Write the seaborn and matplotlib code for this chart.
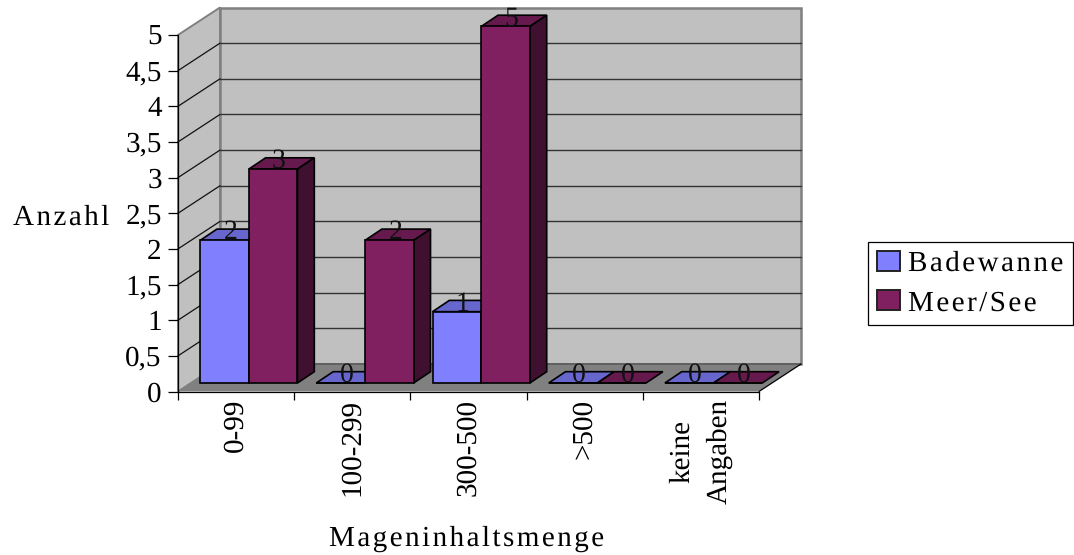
import matplotlib
matplotlib.use("Agg")
import numpy as np
import pandas as pd
import seaborn as sns
import matplotlib.pyplot as plt
from matplotlib.patches import Polygon

### data
mengen = ["0-99", "100-299", "300-500", ">500", "keine\nAngaben"]
badewanne = [2, 0, 1, 0, 0]
meer_see = [3, 2, 5, 0, 0]
y_ticks = [0, 0.5, 1, 1.5, 2, 2.5, 3, 3.5, 4, 4.5, 5]
y_labels = ["0", "0,5", "1", "1,5", "2", "2,5", "3", "3,5", "4", "4,5", "5"]

df = pd.DataFrame({
    "menge": mengen * 2,
    "anzahl": badewanne + meer_see,
    "ort": ["Badewanne"] * 5 + ["Meer/See"] * 5,
})

# front, top, side colours per series
colors = {"Badewanne": ("#8080FF", "#6666CC", "#404080"),
          "Meer/See": ("#802060", "#66194D", "#401030")}


def spaced(s):
    # the original titles are letter spaced, matplotlib has no option for it
    return "\u200a".join(s)


sns.set_theme(style="white", rc={"text.color": "black", "axes.labelcolor": "black",
                                 "xtick.color": "black", "ytick.color": "black"})
plt.rcParams["font.family"] = ["Liberation Serif", "DejaVu Serif"]
plt.rcParams["text.hinting"] = "no_hinting"
FS = 21

W, H = 1074, 555
fig = plt.figure(figsize=(W / 100, H / 100), dpi=100)
ax = fig.add_axes([178 / W, 1 - 391.5 / H, 581 / W, 356.5 / H])
ax.patch.set_visible(False)

sns.barplot(data=df, x="menge", y="anzahl", hue="ort", ax=ax, width=0.838,
            gap=0, saturation=1, legend=False, edgecolor="black", linewidth=1.2,
            palette={k: v[0] for k, v in colors.items()})
ax.set_xlim(-0.5, 4.5)
ax.set_ylim(0, 5)

# oblique depth of the chart box, in data units
DX, DY = 42 / 116.2, 27.5 / 71.3
x0, x1, y0, y1 = -0.5, 4.5, 0, 5

### walls and floor
left_wall = [(x0, y0), (x0 + DX, y0 + DY), (x0 + DX, y1 + DY), (x0, y1)]
back_wall = [(x0 + DX, y0 + DY), (x1 + DX, y0 + DY), (x1 + DX, y1 + DY), (x0 + DX, y1 + DY)]
floor = [(x0, y0), (x1, y0), (x1 + DX, y0 + DY), (x0 + DX, y0 + DY)]
ax.add_patch(Polygon(left_wall, fc="#C0C0C0", ec="#808080", lw=1.4, zorder=0.5, clip_on=False))
ax.add_patch(Polygon(back_wall, fc="#C0C0C0", ec="#808080", lw=1.8, zorder=0.6, clip_on=False))
for t in y_ticks[1:-1]:
    ax.plot([x0, x0 + DX], [t, t + DY], color="#111111", lw=0.9, zorder=0.8, clip_on=False)
    ax.plot([x0 + DX, x1 + DX], [t + DY, t + DY], color="#333333", lw=1, zorder=0.8, clip_on=False)
ax.add_patch(Polygon(floor, fc="#808080", ec="none", zorder=0.9, clip_on=False))
ax.plot([x0 + DX, x1 + DX], [y0 + DY, y0 + DY], color="#606060", lw=1.4, zorder=0.95, clip_on=False)
ax.plot([x1, x1 + DX], [y0, y0 + DY], color="black", lw=0.9, zorder=0.95, clip_on=False)

### turn the flat bars into blocks
front = 0.31  # how far the bars stand back from the front edge
depth = 0.41  # how deep the blocks are
for c, (name, container) in enumerate(zip(colors, ax.containers)):
    for i, bar in enumerate(container):
        left, w, h = bar.get_x() + front * 41 / 116.2, bar.get_width(), bar.get_height()
        base = front * DY
        right = left + w
        ddx, ddy = depth * 41 / 116.2, depth * DY
        z = 2 + i + c * 0.5
        bar.set_x(left)
        bar.set_y(base)
        bar.set_zorder(z + 0.2)
        bar.set_clip_on(False)
        top = [(left, base + h), (right, base + h), (right + ddx, base + h + ddy), (left + ddx, base + h + ddy)]
        ax.add_patch(Polygon(top, fc=colors[name][1], ec="black", lw=1.2, zorder=z, clip_on=False))
        if h > 0:
            side = [(right, base), (right + ddx, base + ddy), (right + ddx, base + h + ddy), (right, base + h)]
            ax.add_patch(Polygon(side, fc=colors[name][2], ec="black", lw=1.2, zorder=z, clip_on=False))
        ax.text(left + w / 2 + 0.35 * ddx, base + h + 0.7 * ddy, f"{h:g}", ha="center", va="center",
                fontsize=FS - 1, color="#111111", zorder=20, clip_on=False)

### axes
sns.despine(ax=ax, top=True, right=True)
for s in ["left", "bottom"]:
    ax.spines[s].set_color("black")
    ax.spines[s].set_linewidth(0.9)
    ax.spines[s].set_zorder(10)
ax.set_yticks(y_ticks, y_labels)
ax.set_xticks(range(5), mengen, rotation=90, ha="center", va="top", ma="center", linespacing=1.56)
ax.set_xticks(np.arange(-0.5, 5), minor=True)
ax.tick_params(axis="y", left=True, length=7.2, width=0.9, color="black", labelsize=FS, pad=4.5)
ax.tick_params(axis="x", which="major", bottom=False, labelsize=FS, pad=-1)
ax.tick_params(axis="x", which="minor", bottom=True, length=5.8, width=0.9, color="black")
ax.set_ylabel(spaced("Anzahl"), rotation=0, fontsize=FS, ha="center", va="center")
ax.yaxis.set_label_coords((61 - 178) / 581, (391.5 - 218) / 356.5)
ax.set_xlabel(spaced("Mageninhaltsmenge"), fontsize=FS, va="center")
ax.xaxis.set_label_coords((467 - 178) / 581, -(539 - 391.5) / 356.5)

### legend
handles = [plt.Rectangle((0, 0), 1, 1, fc=v[0], ec="#222222", lw=1.4) for v in colors.values()]
leg = fig.legend(handles, [spaced(k) for k in colors], loc="center left",
                 bbox_to_anchor=(868 / W, 1 - 325 / H, 205 / W, 83 / H), mode="expand",
                 fontsize=FS, frameon=True, fancybox=False, framealpha=1, edgecolor="black",
                 handlelength=0.78, handleheight=0.68, handletextpad=0.28, borderaxespad=0,
                 labelspacing=0.45, borderpad=0.3)
leg.get_frame().set_linewidth(0.9)

fig.savefig("out.png", dpi=100)
